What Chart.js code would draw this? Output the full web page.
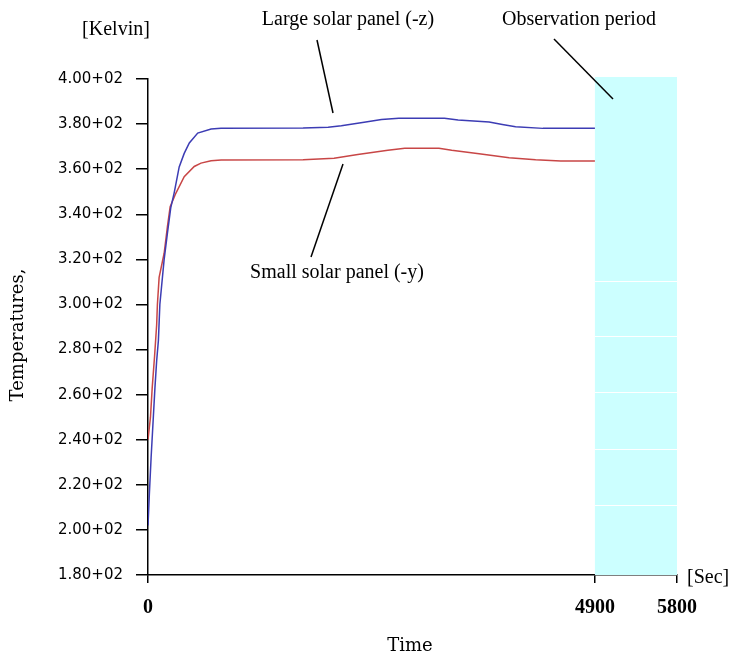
<!DOCTYPE html>
<html>
<head>
<meta charset="utf-8">
<script src="https://cdn.jsdelivr.net/npm/chart.js@4"></script>
<style>
  html, body { margin: 0; padding: 0; background: #fff; }
  #wrap { width: 729px; height: 658px; }
</style>
</head>
<body>
<div id="wrap"><canvas id="tempChart" width="729" height="658"></canvas></div>
<script>
// time in seconds, temperature in Kelvin
const largeTime = [0, 15, 34, 57, 76, 95, 114, 130, 177, 213, 250, 287, 342, 397, 453, 545, 692, 800, 1700, 1975, 2120, 2370, 2560, 2750, 3250, 3400, 3740, 3885, 4030, 4330, 4900];
const largeTemp = [202, 216, 232, 249, 263, 275, 284, 300, 320, 331.6, 343, 349.5, 361, 367, 371.6, 376, 377.8, 378.2, 378.3, 378.6, 379.3, 380.8, 382, 382.6, 382.6, 381.8, 380.9, 379.8, 378.8, 378.1, 378.1];

const smallTime = [0, 27, 46, 72, 95, 103, 122, 177, 213, 243, 305, 397, 507, 581, 692, 802, 1700, 2040, 2300, 2630, 2815, 3190, 3330, 3630, 3960, 4250, 4525, 4900];
const smallTemp = [240, 250, 263, 277, 291, 300, 312, 322.7, 334.5, 343.4, 349.3, 356.7, 361.2, 362.7, 363.7, 364.1, 364.2, 364.9, 366.5, 368.4, 369.3, 369.3, 368.4, 366.8, 365.1, 364.2, 363.6, 363.6];

const xTicks = [0, 4900, 5800];
const obsStart = 4900;
const obsEnd = 5800;
const stripeTemps = [310.4, 286, 261.2, 236, 211.2];

const toPoints = (xs, ys) => xs.map((x, i) => ({ x: x, y: ys[i] }));

const decor = {
  id: "decor",
  beforeDatasetsDraw(chart) {
    const { ctx, chartArea, scales } = chart;
    const x0 = scales.x.getPixelForValue(obsStart);
    const x1 = scales.x.getPixelForValue(obsEnd);
    ctx.save();
    ctx.fillStyle = "#ccffff";
    ctx.fillRect(x0, chartArea.top - 2, x1 - x0, chartArea.bottom - chartArea.top + 2);
    ctx.strokeStyle = "#ffffff";
    ctx.lineWidth = 1;
    stripeTemps.forEach((t) => {
      const y = Math.round(scales.y.getPixelForValue(t)) + 0.5;
      ctx.beginPath();
      ctx.moveTo(x0, y);
      ctx.lineTo(x1, y);
      ctx.stroke();
    });
    ctx.restore();
  },
  afterDraw(chart) {
    const { ctx } = chart;
    ctx.save();
    ctx.fillStyle = "#000";
    ctx.textBaseline = "middle";

    ctx.font = "20px 'Liberation Serif', 'Times New Roman', serif";
    ctx.textAlign = "center";
    ctx.fillText("[Kelvin]", 116, 30);
    ctx.fillText("Large solar panel (-z)", 348, 20);
    ctx.fillText("Observation period", 579, 20);
    ctx.fillText("Small solar panel (-y)", 337, 273);
    ctx.textAlign = "left";
    ctx.fillText("[Sec]", 687, 578);

    ctx.font = "18px 'DejaVu Serif', serif";
    ctx.textAlign = "center";
    ctx.fillText("Time", 410, 646);
    ctx.translate(18, 335);
    ctx.rotate(-Math.PI / 2);
    ctx.fillText("Temperatures,", 0, 0);
    ctx.setTransform(1, 0, 0, 1, 0, 0);

    // leader lines
    ctx.strokeStyle = "#000";
    ctx.lineWidth = 1.5;
    const lines = [
      [317, 40, 333, 113],
      [554, 39, 613, 99],
      [343, 164, 311, 257],
    ];
    lines.forEach(([a, b, c, d]) => {
      ctx.beginPath();
      ctx.moveTo(a, b);
      ctx.lineTo(c, d);
      ctx.stroke();
    });
    ctx.restore();
  },
};

new Chart(document.getElementById("tempChart"), {
  type: "line",
  data: {
    datasets: [
      {
        label: "Large solar panel (-z)",
        data: toPoints(largeTime, largeTemp),
        borderColor: "#3c3cb4",
        borderWidth: 1.5,
        pointRadius: 0,
        tension: 0,
        fill: false,
      },
      {
        label: "Small solar panel (-y)",
        data: toPoints(smallTime, smallTemp),
        borderColor: "#c84646",
        borderWidth: 1.5,
        pointRadius: 0,
        tension: 0,
        fill: false,
      },
    ],
  },
  options: {
    responsive: false,
    animation: false,
    layout: {
      padding: { top: 79, right: 52, left: 0, bottom: 0 },
    },
    scales: {
      x: {
        type: "linear",
        min: 0,
        max: 5800,
        afterBuildTicks: (scale) => {
          scale.ticks = xTicks.map((v) => ({ value: v }));
        },
        afterFit: (scale) => {
          scale.height = 83;
        },
        border: { display: true, color: "#000", width: 1.5 },
        grid: {
          display: true,
          drawOnChartArea: false,
          drawTicks: true,
          tickLength: 8,
          color: "#000",
          lineWidth: 1.5,
        },
        ticks: {
          autoSkip: false,
          maxRotation: 0,
          padding: 13,
          color: "#000",
          font: { family: "'Liberation Serif', serif", size: 20, weight: "bold" },
          callback: (v) => String(v),
        },
      },
      y: {
        min: 180,
        max: 400,
        afterFit: (scale) => {
          scale.width = 148;
        },
        border: { display: true, color: "#000", width: 1.5 },
        grid: {
          display: true,
          drawOnChartArea: false,
          drawTicks: true,
          tickLength: 12,
          color: "#000",
          lineWidth: 1.5,
        },
        ticks: {
          stepSize: 20,
          padding: 13,
          color: "#000",
          font: { family: "'DejaVu Sans', sans-serif", size: 15 },
          callback: (v) => (v / 100).toFixed(2) + "+02",
        },
      },
    },
    plugins: {
      legend: { display: false },
      tooltip: { enabled: false },
    },
  },
  plugins: [decor],
});
</script>
</body>
</html>
